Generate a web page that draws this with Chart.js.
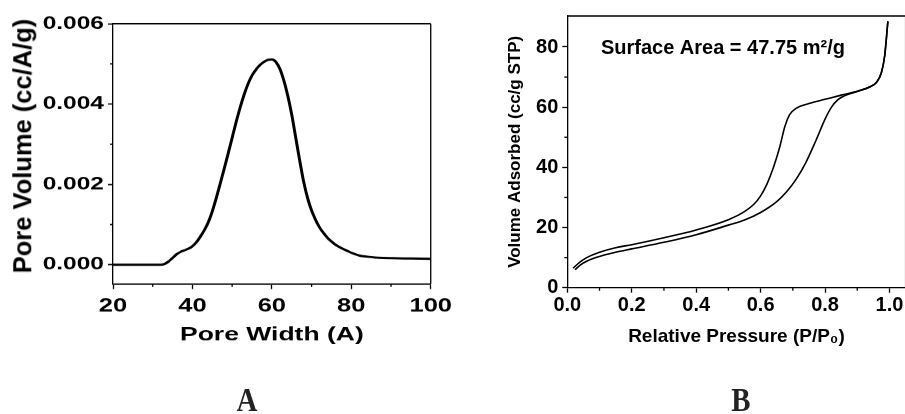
<!DOCTYPE html>
<html>
<head>
<meta charset="utf-8">
<script src="https://cdn.jsdelivr.net/npm/chart.js@4.4.0/dist/chart.umd.min.js"></script>
<style>
  body { margin:0; width:905px; height:414px; overflow:hidden; background:#fff; position:relative; font-family:'Liberation Sans', Arial, sans-serif; }
  /* panel A was squashed vertically in the source figure */
  #boxA { position:absolute; left:0; top:0; width:460px; height:560px; transform:scaleY(0.74); transform-origin:0 0; }
  #chartB { position:absolute; left:470px; top:0; }
  #ytitleA { position:absolute; left:22.5px; top:146px; transform:translate(-50%,-50%) rotate(-90deg); font-weight:bold; font-size:25.5px; line-height:1; white-space:nowrap; color:#000; }
  .panel { position:absolute; top:400px; font-family:'Liberation Serif','Times New Roman',serif; font-weight:bold; font-size:34px; line-height:1; color:#222; transform:translate(-50%,-50%) scaleX(0.85); }
</style>
</head>
<body>
<div id="boxA"><canvas id="chartA" width="460" height="560"></canvas></div>
<div id="ytitleA">Pore Volume (cc/A/g)</div>
<canvas id="chartB" width="440" height="414"></canvas>
<div class="panel" style="left:247px">A</div>
<div class="panel" style="left:741px">B</div>
<script>
// panel A - pore size distribution
const poreWidth = [20, 25, 30, 32, 33, 34, 35, 36, 37, 38, 39, 40, 41, 42, 43, 44, 45, 46, 47, 48, 49, 50,
  51, 52, 53, 54, 55, 56, 57, 58, 59, 60, 61, 62, 63, 64, 65, 66, 67, 68, 69, 70, 71, 72, 73, 74, 75, 76,
  78, 80, 82, 84, 86, 88, 90, 95, 100];
const poreVolume = [0, 0, 0, 0, 0.00002, 0.00008, 0.00017, 0.00026, 0.00032, 0.00036, 0.0004, 0.00046,
  0.00056, 0.0007, 0.00086, 0.00106, 0.00133, 0.00166, 0.00202, 0.00239, 0.00277, 0.00316,
  0.00355, 0.00391, 0.00423, 0.0045, 0.00471, 0.00486, 0.00497, 0.00505, 0.0051, 0.00511,
  0.00505, 0.00488, 0.00459, 0.00421, 0.00374, 0.00317, 0.0026, 0.00207, 0.00166, 0.00135,
  0.00112, 0.00093, 0.00079, 0.00067, 0.00058, 0.0005, 0.00039, 0.0003, 0.00023, 0.0002,
  0.00018, 0.00017, 0.000165, 0.000155, 0.000145];
const xTicksA = [20, 40, 60, 80, 100];
const xMinorA = [30, 50, 70, 90];
const yTicksA = [0, 0.002, 0.004, 0.006];
const yMinorA = [0.001, 0.003, 0.005];

// panel B - N2 isotherm
const adsP = [0.024, 0.04, 0.06, 0.1, 0.15, 0.2, 0.3, 0.4, 0.5, 0.55, 0.6, 0.65, 0.68, 0.71, 0.74, 0.77,
  0.8, 0.82, 0.84, 0.86, 0.9, 0.94, 0.96, 0.975, 0.985, 0.995];
const adsV = [6.0, 7.5, 8.8, 10.4, 11.8, 12.9, 15.1, 17.6, 20.8, 22.5, 25.0, 28.6, 31.8, 36.0, 41.5, 48.5,
  56.0, 60.0, 62.5, 63.8, 65.2, 66.8, 68.3, 71.5, 77, 88.5];
const desP = [0.018, 0.04, 0.06, 0.1, 0.15, 0.2, 0.3, 0.4, 0.5, 0.55, 0.58, 0.6, 0.62, 0.64, 0.66, 0.675,
  0.69, 0.71, 0.75, 0.8, 0.85, 0.9, 0.94, 0.96, 0.975, 0.985, 0.995];
const desV = [6.5, 8.6, 10.0, 11.8, 13.3, 14.3, 16.6, 19.2, 22.6, 25.3, 27.8, 30.5, 34.5, 40.0, 47.0, 53.5,
  57.5, 59.6, 61.2, 62.6, 64.0, 65.3, 66.8, 68.3, 71.5, 77, 88.5];
const xTicksB = [0, 0.2, 0.4, 0.6, 0.8, 1.0];
const xMinorB = [0.1, 0.3, 0.5, 0.7, 0.9];
const yTicksB = [0, 20, 40, 60, 80];
const yMinorB = [10, 30, 50, 70];
const noteB = { x: 0.483, y: 77.7, text: 'Surface Area = 47.75 m\u00B2/g' };

Chart.defaults.font.family = "'Liberation Sans', Arial, sans-serif";
Chart.defaults.color = '#000';

const pts = (xs, ys) => xs.map((x, i) => ({ x: x, y: ys[i] }));

// short ticks between the labelled ones + closed frame
const frameTicks = {
  id: 'frameTicks',
  afterDraw(chart, args, o) {
    const ctx = chart.ctx, a = chart.chartArea;
    const sx = chart.scales.x, sy = chart.scales.y;
    ctx.save();
    ctx.strokeStyle = '#000';
    ctx.lineWidth = o.xw;
    o.x.forEach(v => {
      const p = sx.getPixelForValue(v);
      ctx.beginPath(); ctx.moveTo(p, a.bottom); ctx.lineTo(p, a.bottom + o.xl); ctx.stroke();
    });
    ctx.lineWidth = o.yw;
    o.y.forEach(v => {
      const p = sy.getPixelForValue(v);
      ctx.beginPath(); ctx.moveTo(a.left, p); ctx.lineTo(a.left - o.yl, p); ctx.stroke();
    });
    // top + right border
    ctx.lineWidth = o.yw;
    ctx.beginPath(); ctx.moveTo(a.left, a.top); ctx.lineTo(a.right, a.top); ctx.stroke();
    ctx.lineWidth = o.xw;
    ctx.beginPath(); ctx.moveTo(a.right, a.top); ctx.lineTo(a.right, a.bottom); ctx.stroke();
    if (o.note) {
      ctx.font = 'bold 20px "Liberation Sans", Arial, sans-serif';
      ctx.fillStyle = '#000';
      ctx.textAlign = 'center';
      ctx.textBaseline = 'alphabetic';
      ctx.fillText(o.note.text, sx.getPixelForValue(o.note.x), sy.getPixelForValue(o.note.y));
    }
    ctx.restore();
  }
};

new Chart(document.getElementById('chartA'), {
  type: 'line',
  data: {
    datasets: [{
      data: pts(poreWidth, poreVolume),
      borderColor: '#000',
      borderWidth: 3,
      pointRadius: 0,
      cubicInterpolationMode: 'monotone'
    }]
  },
  options: {
    responsive: false,
    animation: false,
    devicePixelRatio: 1,
    layout: { padding: { left: 0, right: 26, top: 32, bottom: 91.4 } },
    plugins: {
      legend: { display: false },
      tooltip: { enabled: false },
      frameTicks: { x: xMinorA, y: yMinorA, xl: 4.05, yl: 3, xw: 1.3, yw: 1.76 }
    },
    scales: {
      x: {
        type: 'linear', min: 20, max: 100,
        afterBuildTicks: s => { s.ticks = xTicksA.map(v => ({ value: v })); },
        afterFit: s => { s.height = 84.8; },
        ticks: { font: { size: 25.5, weight: 'bold' }, padding: 8, maxRotation: 0, autoSkip: false, callback: v => v },
        grid: { drawOnChartArea: false, tickLength: 6.8, tickWidth: 1.3, tickColor: '#000' },
        border: { color: '#000', width: 1.76 },
        title: { display: true, text: 'Pore Width (A)', font: { size: 26.5, weight: 'bold' }, padding: 0 }
      },
      y: {
        min: -0.00048, max: 0.006,
        afterBuildTicks: s => { s.ticks = yTicksA.map(v => ({ value: v })); },
        afterFit: s => { s.width = 113; },
        ticks: { font: { size: 24.5, weight: 'bold' }, padding: 4, autoSkip: false, callback: v => v.toFixed(3) },
        grid: { drawOnChartArea: false, tickLength: 5, tickWidth: 1.76, tickColor: '#000' },
        border: { color: '#000', width: 1.3 }
      }
    }
  },
  plugins: [frameTicks]
});

new Chart(document.getElementById('chartB'), {
  type: 'line',
  data: {
    datasets: [{
      data: pts(adsP, adsV),
      borderColor: '#000', borderWidth: 1.6, pointRadius: 0, cubicInterpolationMode: 'monotone'
    }, {
      data: pts(desP, desV),
      borderColor: '#000', borderWidth: 1.6, pointRadius: 0, cubicInterpolationMode: 'monotone'
    }]
  },
  options: {
    responsive: false,
    animation: false,
    devicePixelRatio: 1,
    layout: { padding: { left: 0, right: 4.4, top: 12.3, bottom: 66 } },
    plugins: {
      legend: { display: false },
      tooltip: { enabled: false },
      frameTicks: { x: xMinorB, y: yMinorB, xl: 3, yl: 3, xw: 1.3, yw: 1.3, note: noteB }
    },
    scales: {
      x: {
        type: 'linear', min: 0, max: 1.05,
        afterBuildTicks: s => { s.ticks = xTicksB.map(v => ({ value: v })); },
        afterFit: s => { s.height = 60.3; },
        ticks: { font: { size: 20, weight: 'bold' }, padding: 1, maxRotation: 0, autoSkip: false, callback: v => v.toFixed(1) },
        grid: { drawOnChartArea: false, tickLength: 5, tickWidth: 1.3, tickColor: '#000' },
        border: { color: '#000', width: 1.3 },
        title: { display: true, text: 'Relative Pressure (P/P\u2080)', font: { size: 19, weight: 'bold' }, padding: 0 }
      },
      y: {
        min: 0, max: 90.3,
        afterBuildTicks: s => { s.ticks = yTicksB.map(v => ({ value: v })); },
        afterFit: s => { s.width = 97.3; },
        ticks: { font: { size: 20, weight: 'bold' }, padding: 4, autoSkip: false, callback: v => v },
        grid: { drawOnChartArea: false, tickLength: 5, tickWidth: 1.3, tickColor: '#000' },
        border: { color: '#000', width: 1.3 },
        title: { display: true, text: 'Volume Adsorbed (cc/g STP)', font: { size: 17, weight: 'bold' }, padding: { top: 35.4, bottom: 0 } }
      }
    }
  },
  plugins: [frameTicks]
});
</script>
</body>
</html>
